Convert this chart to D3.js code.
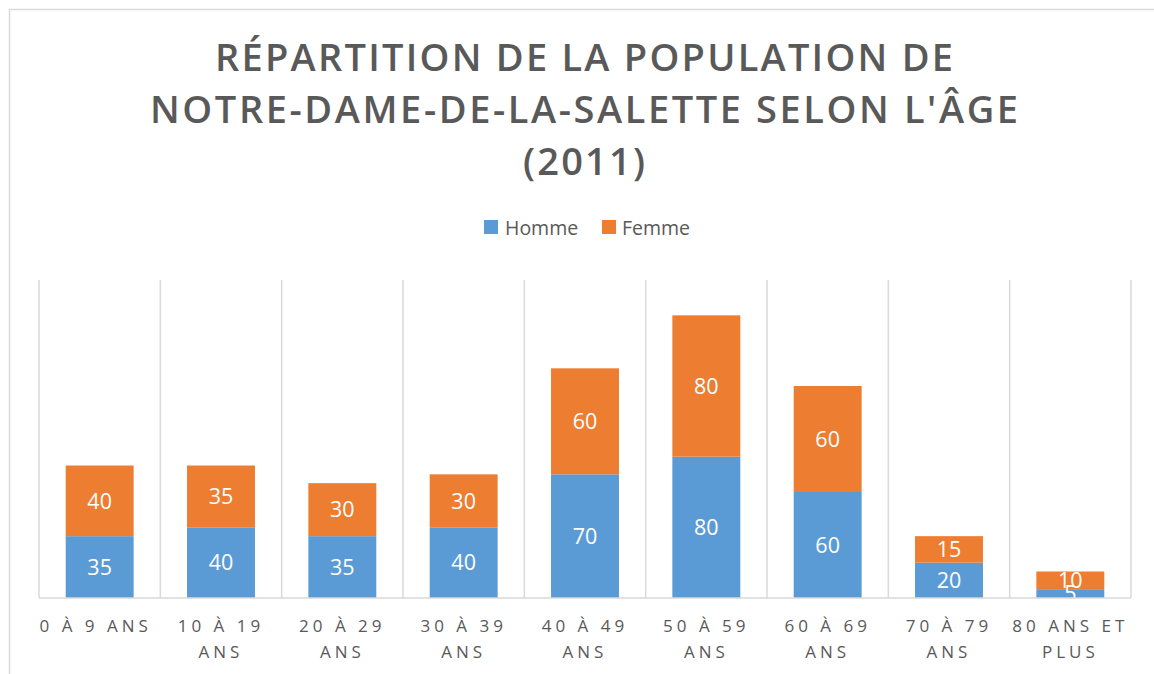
<!DOCTYPE html>
<html><head><meta charset="utf-8">
<script src="https://cdn.jsdelivr.net/npm/d3@7"></script>
<style>
html,body{margin:0;padding:0;background:#fff;}
svg{display:block;}
</style></head>
<body>
<svg id="chart" width="1154" height="674"></svg>
<script>
const titleLines = ["RÉPARTITION DE LA POPULATION DE", "NOTRE-DAME-DE-LA-SALETTE SELON L'ÂGE", "(2011)"];
const categories = ["0-9", "10-19", "20-29", "30-39", "40-49", "50-59", "60-69", "70-79", "80+"];
const tickLabels = [["0 À 9 ANS"], ["10 À 19", "ANS"], ["20 À 29", "ANS"], ["30 À 39", "ANS"], ["40 À 49", "ANS"], ["50 À 59", "ANS"], ["60 À 69", "ANS"], ["70 À 79", "ANS"], ["80 ANS ET", "PLUS"]];
const seriesNames = ["Homme", "Femme"];
const homme = [35, 40, 35, 40, 70, 80, 60, 20, 5];
const femme = [40, 35, 30, 30, 60, 80, 60, 15, 10];
const colors = ["#5B9BD5", "#ED7D31"];

(function () {
const svg = d3.select("#chart");
const textColor = "#595959";
const gridColor = "#D9D9D9";

svg.append("rect").attr("x", 9.5).attr("y", 9.5).attr("width", 1160).attr("height", 700)
  .attr("fill", "none").attr("stroke", gridColor).attr("stroke-width", 1.5);

const titleW = [738, 868, 122];
const titleY = [71, 123, 175];
titleLines.forEach((t, i) => {
  svg.append("text").attr("x", 584).attr("y", titleY[i]).attr("text-anchor", "middle")
    .attr("font-family", "'Open Sans', sans-serif").attr("font-weight", 600).attr("font-size", 38)
    .attr("fill", textColor).attr("textLength", titleW[i]).attr("lengthAdjust", "spacing").text(t);
});

const legendItems = [{x: 484, tx: 505}, {x: 602, tx: 622}];
seriesNames.forEach((n, i) => {
  svg.append("rect").attr("x", legendItems[i].x).attr("y", 220).attr("width", 14).attr("height", 14).attr("fill", colors[i]);
  svg.append("text").attr("x", legendItems[i].tx).attr("y", 235).attr("font-family", "'Open Sans', sans-serif")
    .attr("font-size", 19.5).attr("fill", textColor).text(n);
});

const pLeft = 39, pRight = 1131, pTop = 280, pBottom = 598;
const x = d3.scaleBand().domain(categories).range([pLeft, pRight]).paddingInner(0.44).paddingOuter(0.22);
const y = d3.scaleLinear().domain([0, 180]).range([pBottom, pTop]);

const bounds = d3.range(categories.length + 1).map(i => pLeft + i * (pRight - pLeft) / categories.length);
svg.append("g").selectAll("line").data(bounds).join("line")
  .attr("x1", d => d).attr("x2", d => d).attr("y1", pTop).attr("y2", pBottom)
  .attr("stroke", gridColor).attr("stroke-width", 1.5);

const data = categories.map((c, i) => ({cat: c, Homme: homme[i], Femme: femme[i]}));
const stack = d3.stack().keys(seriesNames)(data);

const g = svg.append("g");
stack.forEach((s, si) => {
  g.selectAll(null).data(s).join("rect")
    .attr("x", d => x(d.data.cat)).attr("width", x.bandwidth())
    .attr("y", d => y(d[1])).attr("height", d => y(d[0]) - y(d[1]))
    .attr("fill", colors[si]);
});
stack.forEach((s, si) => {
  g.selectAll(null).data(s).join("text")
    .attr("x", d => x(d.data.cat) + x.bandwidth() / 2)
    .attr("y", d => (y(d[0]) + y(d[1])) / 2)
    .attr("dy", "0.36em").attr("text-anchor", "middle")
    .attr("font-family", "'Open Sans', sans-serif").attr("font-size", 21.5).attr("fill", "#fff")
    .text(d => d[1] - d[0]);
});

svg.append("line").attr("x1", pLeft).attr("x2", pRight).attr("y1", pBottom).attr("y2", pBottom)
  .attr("stroke", gridColor).attr("stroke-width", 1.5);

const xl = svg.append("g");
categories.forEach((c, i) => {
  const cx = x(c) + x.bandwidth() / 2 - (i === 0 ? 4 : 0);
  const t = xl.append("text").attr("x", cx).attr("y", 632)
    .attr("text-anchor", "middle").attr("font-family", "'Open Sans', sans-serif")
    .attr("font-size", 17).attr("letter-spacing", "4px").attr("fill", textColor);
  tickLabels[i].forEach((ln, j) => {
    t.append("tspan").attr("x", cx).attr("dy", j === 0 ? 0 : 26).text(ln);
  });
});
})();
</script>
</body></html>
